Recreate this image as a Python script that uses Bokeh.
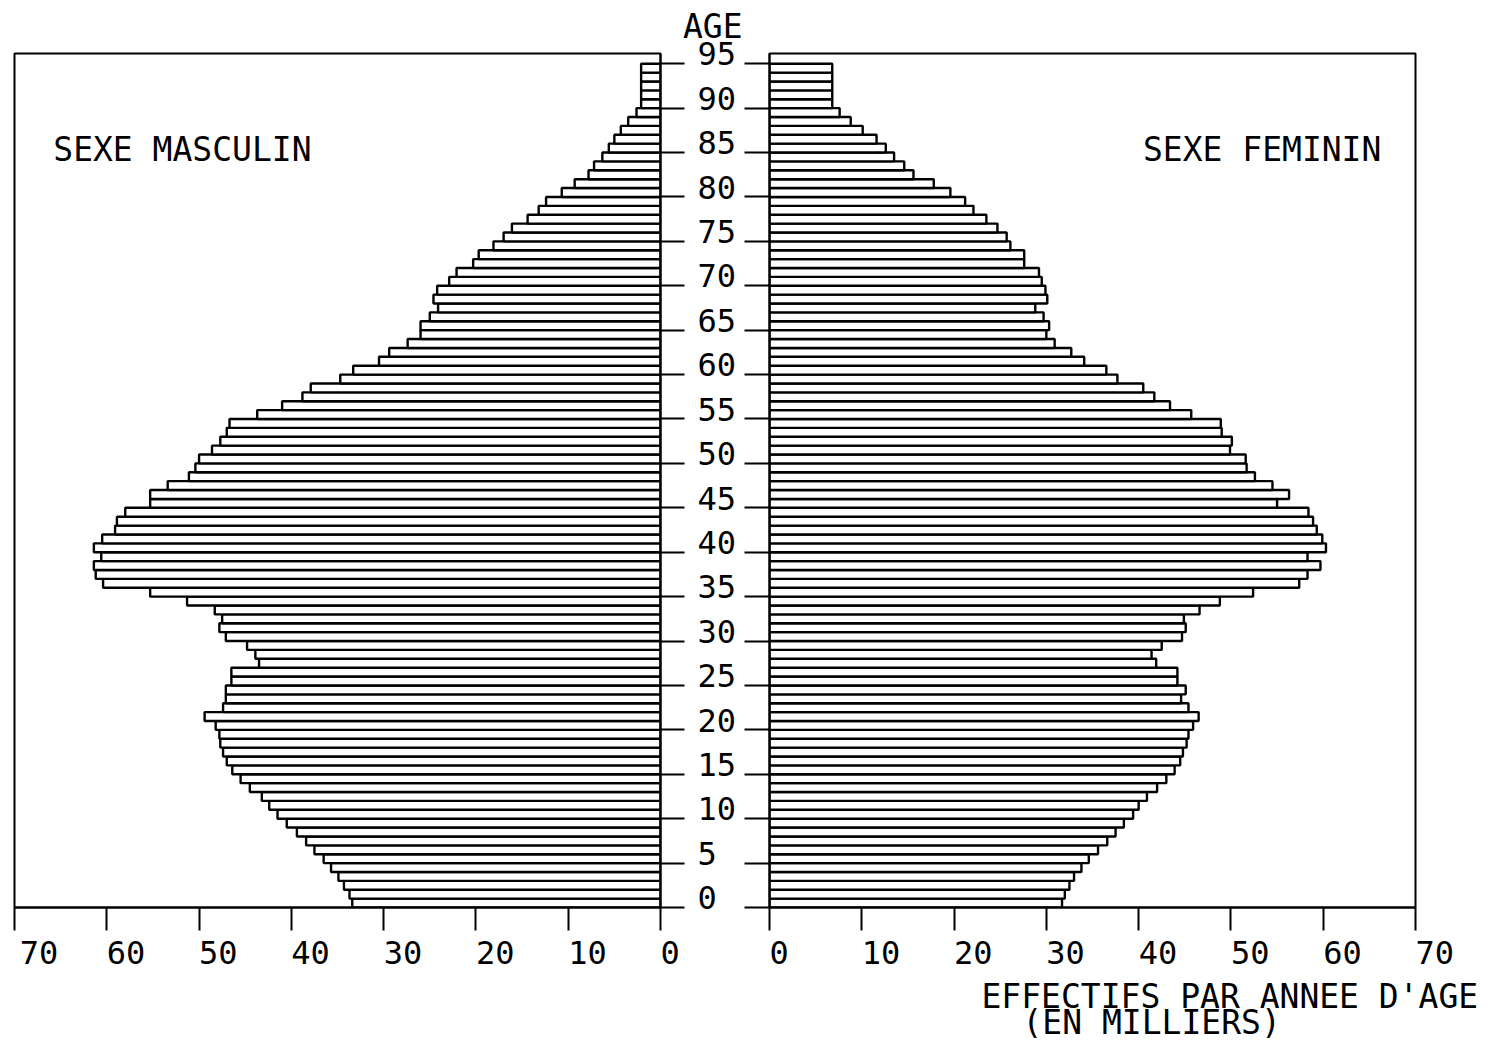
from bokeh.plotting import figure
from bokeh.models import Range1d, FixedTicker, ColumnDataSource, LinearAxis
from bokeh.layouts import row, column
from bokeh.embed import file_html
from bokeh.resources import INLINE
from bokeh.core.properties import value

# ---------------- data (thousands of persons per single year of age) ----------------
ages = list(range(95))
male = [33.4, 33.7, 34.3, 34.9, 35.7, 36.5, 37.5, 38.4, 39.4, 40.5,
        41.5, 42.4, 43.2, 44.5, 45.5, 46.4, 47.0, 47.4, 47.7, 47.8,
        48.2, 49.4, 47.4, 47.1, 47.1, 46.5, 46.5, 43.5, 43.9, 44.8,
        47.1, 47.8, 47.5, 48.3, 51.3, 55.3, 60.4, 61.2, 61.4, 60.6,
        61.4, 60.5, 59.1, 58.9, 58.0, 55.3, 55.3, 53.4, 51.1, 50.4,
        50.0, 48.6, 47.7, 47.0, 46.7, 43.7, 41.0, 38.8, 37.9, 34.7,
        33.3, 30.5, 29.4, 27.4, 26.0, 26.0, 25.0, 24.1, 24.6, 24.2,
        22.9, 22.1, 20.3, 19.7, 18.1, 17.0, 16.1, 14.4, 13.2, 12.4,
        10.7, 9.3, 7.8, 7.2, 6.3, 5.6, 5.0, 4.3, 3.5, 2.6,
        2.1, 2.1, 2.1, 2.1, 2.1]
female = [31.7, 32.0, 32.5, 33.0, 33.8, 34.6, 35.6, 36.6, 37.5, 38.4,
          39.4, 40.0, 40.9, 42.0, 43.0, 43.9, 44.5, 44.8, 45.2, 45.4,
          45.9, 46.5, 45.4, 44.6, 45.1, 44.2, 44.2, 41.9, 41.4, 42.5,
          44.7, 45.1, 44.9, 46.6, 48.8, 52.4, 57.4, 58.3, 59.7, 58.3,
          60.3, 59.9, 59.3, 58.9, 58.4, 55.0, 56.3, 54.5, 52.6, 51.7,
          51.6, 49.9, 50.1, 49.0, 48.9, 45.7, 43.4, 41.7, 40.5, 37.7,
          36.5, 34.1, 32.7, 30.9, 30.0, 30.3, 29.7, 28.8, 30.1, 29.9,
          29.5, 29.2, 27.6, 27.6, 26.1, 25.7, 24.7, 23.5, 22.1, 21.2,
          19.6, 17.8, 15.6, 14.6, 13.5, 12.6, 11.6, 10.1, 8.8, 7.6,
          6.8, 6.8, 6.8, 6.8, 6.8]
x_ticks = [0, 10, 20, 30, 40, 50, 60, 70]
x_tick_labels = ["0", "10", "20", "30", "40", "50", "60", "70"]
age_ticks = list(range(0, 100, 5))
age_tick_labels = [str(a) for a in age_ticks]
title_male = "SEXE MASCULIN"
title_female = "SEXE FEMININ"
age_title = "AGE"
unit_line1 = "EFFECTIFS PAR ANNEE D'AGE"
unit_line2 = "(EN MILLIERS)"

# ---------------- layout constants ----------------
FONT_NAME = "DejaVu Sans Mono"
FONT = value(FONT_NAME)
NBSP = "\u00a0"
XMAX = 70
YMAX = 96.15
FRAME_W = 646
FRAME_H = 854
TOP = 53
BOTTOM = 64
LW = 2
BAR_LW = 2.4
ROW_H = TOP + FRAME_H + BOTTOM
TEXT_H = 1040 - ROW_H
PX_Y = FRAME_H / YMAX          # pixels per year of age
TXT_DY = 12                     # baseline correction of text glyphs (px)
AGE_LABEL_LIFT = 1.1            # age labels sit just above their tick


def padded_labels():
    # plotter style: tick labels start at their tick -> pad on the left
    return {t: NBSP * len(s) + s for t, s in zip(x_ticks, x_tick_labels)}


def style_common(p, overrides):
    p.background_fill_color = "white"
    p.border_fill_color = "white"
    p.outline_line_color = "black"
    p.outline_line_width = LW
    p.xgrid.grid_line_color = None
    p.ygrid.grid_line_color = None
    for ax in list(p.xaxis) + list(p.yaxis):
        ax.axis_line_width = LW
        ax.axis_line_color = "black"
        ax.major_tick_line_width = LW
        ax.major_tick_line_color = "black"
        ax.minor_tick_line_color = None
        ax.major_tick_in = 0
    p.xaxis.ticker = FixedTicker(ticks=x_ticks)
    p.xaxis.major_tick_out = 23
    p.xaxis.major_label_overrides = overrides
    p.xaxis.major_label_text_font = FONT_NAME
    p.xaxis.major_label_text_font_size = "32px"
    p.xaxis.major_label_text_color = "black"
    p.xaxis.major_label_standoff = 3
    # tick-only age axis (its labels are drawn by a separate axis)
    p.yaxis.ticker = FixedTicker(ticks=age_ticks)
    p.yaxis.major_label_text_font_size = "0px"
    p.yaxis.major_label_text_color = None
    p.yaxis.major_label_text_alpha = 0
    p.yaxis.major_label_standoff = 0


def ypos(page_baseline):
    # data y whose rendered baseline lands on the given page row
    return (TOP + FRAME_H - (page_baseline - TXT_DY)) / PX_Y


# ---------------- male panel ----------------
src_m = ColumnDataSource(dict(bottom=ages, top=[a + 1 for a in ages], right=male))
pm = figure(frame_width=FRAME_W, frame_height=FRAME_H,
            x_range=Range1d(XMAX, 0), y_range=Range1d(0, YMAX),
            y_axis_location="right", toolbar_location=None, output_backend="svg",
            min_border_left=14, min_border_right=84, min_border_top=TOP,
            min_border_bottom=BOTTOM, title=age_title)
pm.quad(left=0, right="right", bottom="bottom", top="top", source=src_m,
        fill_color="white", line_color="black", line_width=BAR_LW)
male_over = padded_labels()
male_over[70] = NBSP + "70"     # keeps the leftmost label from being pushed inward
style_common(pm, male_over)
pm.yaxis.major_tick_out = 24

# age labels: a second right axis (labels only) on a slightly shifted range
pm.extra_y_ranges = {"agelab": Range1d(-AGE_LABEL_LIFT, YMAX - AGE_LABEL_LIFT)}
age_axis = LinearAxis(y_range_name="agelab", ticker=FixedTicker(ticks=age_ticks),
                      major_label_overrides={t: s for t, s in zip(age_ticks, age_tick_labels)},
                      axis_line_color=None, major_tick_line_color=None,
                      minor_tick_line_color=None, major_tick_out=0, major_tick_in=0,
                      major_label_standoff=13, major_label_text_font=FONT_NAME,
                      major_label_text_font_size="32px", major_label_text_color="black")
pm.add_layout(age_axis, "right")

# "AGE" heading above the age labels
pm.title.align = "right"
pm.title.offset = -82
pm.title.vertical_align = "top"
pm.title.standoff = 12
pm.title.text_font = FONT_NAME
pm.title.text_font_size = "33px"
pm.title.text_font_style = "normal"
pm.title.text_color = "black"

pm.text(x=[65.8], y=[ypos(161)], text=[title_male], text_font=FONT,
        text_font_size="33px", text_align="left", text_baseline="alphabetic",
        text_color="black")

# ---------------- female panel ----------------
src_f = ColumnDataSource(dict(bottom=ages, top=[a + 1 for a in ages], right=female))
pf = figure(frame_width=FRAME_W, frame_height=FRAME_H,
            x_range=Range1d(0, XMAX), y_range=Range1d(0, YMAX),
            y_axis_location="left", toolbar_location=None, output_backend="svg",
            min_border_left=25, min_border_right=70, min_border_top=TOP,
            min_border_bottom=BOTTOM)
pf.quad(left=0, right="right", bottom="bottom", top="top", source=src_f,
        fill_color="white", line_color="black", line_width=BAR_LW)
style_common(pf, padded_labels())
pf.yaxis.major_tick_out = 25
pf.text(x=[66.3], y=[ypos(161)], text=[title_female], text_font=FONT,
        text_font_size="33px", text_align="right", text_baseline="alphabetic",
        text_color="black")

# ---------------- bottom caption ----------------
pt = figure(width=1493, height=TEXT_H, x_range=Range1d(0, 1493),
            y_range=Range1d(0, TEXT_H), x_axis_type=None, y_axis_type=None,
            toolbar_location=None, output_backend="svg", min_border=0)
pt.outline_line_color = None
pt.background_fill_color = "white"
pt.border_fill_color = "white"
pt.text(x=[981, 1022],
        y=[TEXT_H - (1005 - TXT_DY - ROW_H), TEXT_H - (1031 - TXT_DY - ROW_H)],
        text=[unit_line1, unit_line2],
        text_font=FONT, text_font_size="33px", text_align="left",
        text_baseline="alphabetic", text_color="black")

layout = column(row(pm, pf), pt)
open("out.html", "w").write(file_html(layout, INLINE))
